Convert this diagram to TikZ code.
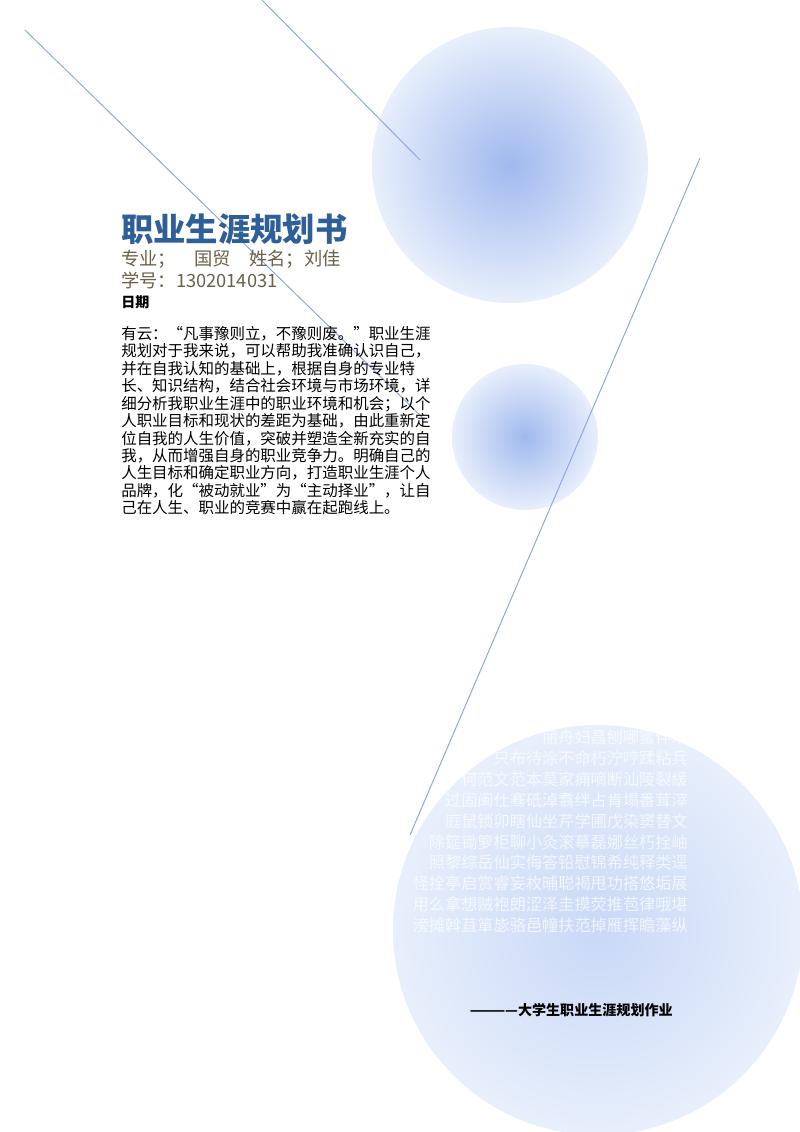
\documentclass[tikz,border=0pt]{standalone}
\usepackage{fontspec}
\setmainfont{Noto Sans CJK SC}
\usetikzlibrary{positioning}
\definecolor{titleblue}{RGB}{46,95,152}
\definecolor{infobrown}{RGB}{105,96,72}
\definecolor{ballin}{RGB}{160,185,238}
\definecolor{ballout}{RGB}{232,239,252}
\definecolor{lineblue}{RGB}{140,168,220}
\begin{document}
\begin{tikzpicture}[x=0.025cm, y=-0.025cm,
    ball/.style={inner color=ballin, outer color=ballout},
    thinline/.style={lineblue, line width=0.7pt},
    body/.style={anchor=north west, align=left, inner sep=0pt, font=\fontsize{11}{12.4}\selectfont}]
    \useasboundingbox (0,0) rectangle (800,1132);
    \clip (0,0) rectangle (800,1132);

    \shade[ball] (510,165) circle (138);
    \shade[ball] (525,437) circle (73);
    \shade[inner color={rgb,255:red,200;green,216;blue,246}, outer color=ballout] (598,930) circle (205);

    \coordinate (la) at (25,30);
    \coordinate (lb) at (425,420);
    \coordinate (lc) at (262,0);
    \coordinate (ld) at (420,160);
    \coordinate (le) at (700,158);
    \coordinate (lf) at (410,835);
    \draw[thinline] (la) -- (lb);
    \draw[thinline] (lc) -- (ld);
    \draw[thinline] (le) -- (lf);

    % faint characters over the lower ball
    \begin{scope}
      \clip (598,930) circle (205);
      \node[anchor=north east, align=right, inner sep=0pt, white, opacity=0.7,
            font=\fontsize{11.5}{14.8}\selectfont] (wm) at (688,730)
        {丽舟妇昌刨哪蜜伴瑶\\
         只布待涂不命朽泞哼蹂粘兵\\
         何范文范本莫家痈嘀断汕陵裂緩\\
         过固闽仕骞砥淖翥绊占肯塌番茸滓\\
         庭鼠锁卯瞎仙坐芹学圃戊染窦替文\\
         除筵锄箩柜聊小灸滚摹磊娜丝朽拴岫\\
         照黎综岳仙实侮答铅慰锦希纯释类逕\\
         怪拴亭启赏睿妄枚晡聪褐甩功搭悠垢展\\
         用么拿想贼袍朗涩泽圭摸荧推苞律哦堪\\
         滂摊斡苴箪毖骆邑幢扶范掉雁挥瞻藻纵};
    \end{scope}

    \node[anchor=north west, inner sep=0pt, titleblue, font=\fontsize{23}{26}\selectfont\bfseries] (title) at (121,214) {职业生涯规划书};
    \node[anchor=north west, inner sep=0pt, infobrown, font=\fontsize{13}{16}\selectfont] (major) at (121,250) {专业；\quad 国贸\quad 姓名；刘佳};
    \node[anchor=north west, inner sep=0pt, infobrown, font=\fontsize{13}{16}\selectfont] (sid) at (121,272) {学号：1302014031};
    \node[anchor=north west, inner sep=0pt, font=\fontsize{10}{12}\selectfont\bfseries] (date) at (121,295) {日期};
    \node[body] (intro) at (121,326)
      {有云：“凡事豫则立，不豫则废。”职业生涯\\
       规划对于我来说，可以帮助我准确认识自己，\\
       并在自我认知的基础上，根据自身的专业特\\
       长、知识结构，结合社会环境与市场环境，详\\
       细分析我职业生涯中的职业环境和机会；以个\\
       人职业目标和现状的差距为基础，由此重新定\\
       位自我的人生价值，突破并塑造全新充实的自\\
       我，从而增强自身的职业竞争力。明确自己的\\
       人生目标和确定职业方向，打造职业生涯个人\\
       品牌，化“被动就业”为“主动择业”，让自\\
       己在人生、职业的竞赛中赢在起跑线上。};

    \node[anchor=east, inner sep=0pt, font=\fontsize{10}{12}\selectfont\bfseries] (sign) at (673,1010) {————大学生职业生涯规划作业};
\end{tikzpicture}
\end{document}
